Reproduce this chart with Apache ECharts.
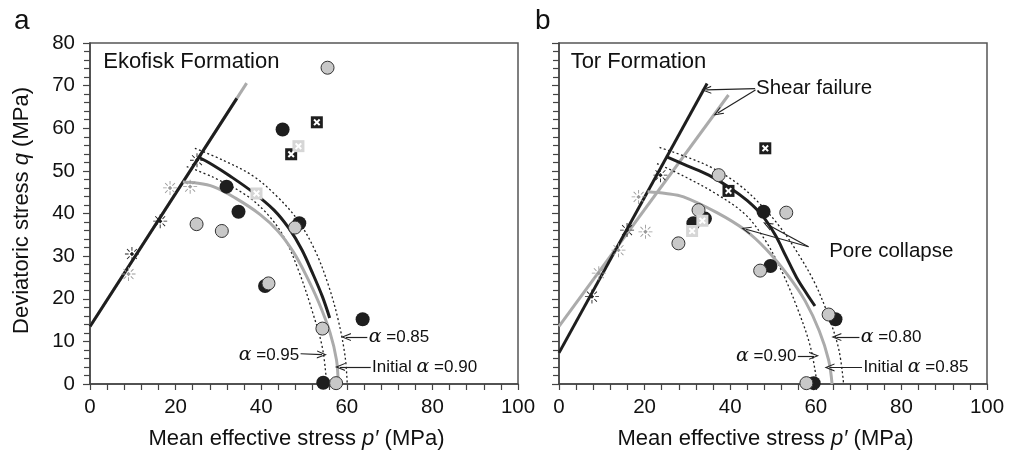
<!DOCTYPE html>
<html><head><meta charset="utf-8">
<script src="https://cdn.jsdelivr.net/npm/echarts@6/dist/echarts.min.js"></script>
<style>html,body{margin:0;padding:0;background:#fff}#c{width:1012px;height:456px}</style>
</head><body><div id="c"></div>
<script>
// ---------- data (MPa) ----------
const xTicks = [0, 20, 40, 60, 80, 100];
const yTicks = [0, 10, 20, 30, 40, 50, 60, 70, 80];

// Panel a: Ekofisk Formation
const aShearBlack = [[0, 13.5], [34.3, 67]];
const aShearGray = [[0, 13.5], [36.6, 70.6]];
const aCapBlack = [[25.4, 53.2], [28.5, 51.5], [32.7, 48.8], [38.2, 44.9], [43, 40.8], [46.5, 36.5], [49.5, 31.5], [52, 26], [54.3, 20.5], [56, 15.5]];
const aCapGray = [[21.7, 47.4], [24.5, 47.2], [28.8, 46.3], [34, 43.6], [39.7, 39.8], [44, 35.8], [47.5, 31], [50.5, 25.5], [53.5, 19], [56.1, 12], [57.6, 5.6], [58, 0]];
const aDotOuter = [[24.5, 55.3], [31.1, 52.5], [38.1, 48.8], [43.7, 44], [48.5, 38.5], [52.5, 31.5], [55.6, 23.5], [58, 15], [59.6, 6.5], [60.1, 0]];
const aDotInner = [[22.6, 51], [28.8, 48.5], [36.6, 44.2], [41.5, 39.8], [45.3, 34.5], [48.7, 26.7], [51.8, 17.5], [54.3, 8.5], [55.3, 0]];
const aBlackCircles = [[45, 59.7], [31.9, 46.3], [34.7, 40.4], [48.9, 37.7], [40.9, 23], [63.7, 15.2], [54.5, 0.3]];
const aGrayCircles = [[55.5, 74.2], [24.9, 37.5], [30.8, 35.9], [47.9, 36.7], [41.7, 23.6], [54.3, 13], [57.5, 0.2]];
const aBlackSquares = [[53, 61.4], [47, 53.9]];
const aGraySquares = [[48.7, 55.8], [38.9, 44.7]];
const aShearPtsBlack = [[25, 52.5], [16.4, 38.2], [9.8, 30.5]];
const aShearPtsGray = [[18.7, 46], [23.4, 46.3], [9, 25.8]];

// Panel b: Tor Formation
const bShearBlack = [[0, 7.3], [34.6, 70.5]];
const bShearGray = [[0, 13.5], [39.6, 67.8]];
const bCapBlack = [[25.2, 53.3], [30, 51.2], [35, 49], [40, 46], [44, 43], [47.5, 39.5], [50.5, 35], [53, 30], [55.5, 25], [58, 21], [59.8, 18.3]];
const bCapGray = [[20.7, 45.1], [25, 44.7], [29.1, 43.9], [36.9, 40.2], [43.5, 36.1], [48.5, 31.5], [53.5, 25.5], [57.5, 19.5], [60.8, 12.5], [63, 5.6], [63.8, 0]];
const bDotOuter = [[23.5, 55.5], [30, 53.2], [36, 50.6], [42, 46.8], [47, 42.2], [51.5, 37], [55.6, 31], [59.8, 23.6], [63, 15.8], [65.4, 8], [66.5, 0]];
const bDotInner = [[22.9, 51.7], [29.1, 48.8], [36.9, 44.5], [43.5, 39.8], [48, 34], [51.8, 27], [55.8, 17.5], [58.8, 8.5], [60.3, 0]];
const bBlackCircles = [[34.1, 38.8], [31.4, 37.7], [47.8, 40.4], [49.4, 27.7], [64.6, 15.2], [59.5, 0.2]];
const bGrayCircles = [[37.3, 49], [32.6, 40.8], [27.9, 33], [53.1, 40.2], [47, 26.6], [63, 16.3], [57.8, 0.2]];
const bBlackSquares = [[48.2, 55.3], [39.6, 45.3]];
const bGraySquares = [[33.5, 38.3], [31.1, 35.9]];
const bShearPtsBlack = [[23.7, 49], [15.9, 36.1], [7.7, 20.5]];
const bShearPtsGray = [[18.6, 43.9], [20.2, 35.7], [13.9, 31.4], [9.3, 26]];

// Annotations (text, anchor point in data units, arrows from -> to)
const aTexts = [
  {t: 'Ekofisk Formation', p: [3, 75.6], al: 'left', fs: 22},
  {t: '{a|α} =0.85', p: [65, 11], al: 'left', fs: 17},
  {t: '{a|α} =0.95', p: [49, 6.8], al: 'right', fs: 17},
  {t: 'Initial {a|α} =0.90', p: [65.8, 4], al: 'left', fs: 17}
];
const aArrows = [[[64.8, 11], [59.8, 11]], [[49.2, 7.1], [54.2, 6.9]], [[65.6, 4], [58.4, 4]]];
const bTexts = [
  {t: 'Tor Formation', p: [2.6, 75.6], al: 'left', fs: 22},
  {t: 'Shear failure', p: [45.9, 69.3], al: 'left', fs: 20.5},
  {t: 'Pore collapse', p: [63, 31.2], al: 'left', fs: 20.5},
  {t: '{a|α} =0.80', p: [70.4, 10.9], al: 'left', fs: 17},
  {t: '{a|α} =0.90', p: [55.6, 6.6], al: 'right', fs: 17},
  {t: 'Initial {a|α} =0.85', p: [71, 3.9], al: 'left', fs: 17}
];
const bArrows = [[[45.9, 69.3], [34.4, 69]], [[45.9, 69], [37.1, 63.6]], [[58.3, 32.2], [48.7, 37.4]], [[58.3, 32.2], [43.7, 36.3]],
  [[70.2, 11], [64.8, 11]], [[55.8, 6.6], [59.6, 6.6]], [[70.8, 3.9], [63.2, 3.9]]];

// ---------- symbols ----------
const XPATH = 'path://M2,0 L5,3 L8,0 L10,2 L7,5 L10,8 L8,10 L5,7 L2,10 L0,8 L3,5 L0,2 Z';
function starPath() {
  let s = 'path://';
  const c = 10, r1 = 4.5, r2 = 9.5, w = 0.6;
  for (let k = 0; k < 8; k++) {
    const a = k * Math.PI / 4, dx = Math.cos(a), dy = Math.sin(a), px = -dy, py = dx;
    const pts = [[c + r1 * dx + w * px, c + r1 * dy + w * py], [c + r2 * dx + w * px, c + r2 * dy + w * py],
                 [c + r2 * dx - w * px, c + r2 * dy - w * py], [c + r1 * dx - w * px, c + r1 * dy - w * py]];
    s += 'M' + pts.map(p => p[0].toFixed(2) + ',' + p[1].toFixed(2)).join(' L') + ' Z ';
  }
  s += 'M10,7 L13,10 L10,13 L7,10 Z';
  return s;
}
const STAR = starPath();
const CHEV = 'path://M5,0 L10,10 L8.6,10 L5,2.8 L1.4,10 L0,10 Z';

const DARK = '#1e1e1e';
const GRAY = '#ababab';
const TXT = '#111';
const FONT = 'Liberation Sans';

function panelSeries(idx, d) {
  const ax = {xAxisIndex: idx, yAxisIndex: idx};
  const line = (data, color, w, type, z) => Object.assign({type: 'line', data, smooth: 0.35, symbol: 'none', lineStyle: {color, width: w, type}, z, silent: true, animation: false}, ax);
  const sc = (data, symbol, size, style, z) => Object.assign({type: 'scatter', data, symbol, symbolSize: size, itemStyle: Object.assign({opacity: 1}, style), z, silent: true, animation: false}, ax);
  return [
    line(d.shearGray, GRAY, 3, 'solid', 2),
    line(d.shearBlack, DARK, 3, 'solid', 3),
    line(d.dotOuter, DARK, 1.3, [2, 2.5], 2),
    line(d.dotInner, DARK, 1.3, [2, 2.5], 2),
    line(d.capGray, GRAY, 3, 'solid', 3),
    line(d.capBlack, DARK, 3, 'solid', 4),
    sc(d.shearPtsGray, STAR, 14, {color: '#999'}, 5),
    sc(d.shearPtsBlack, STAR, 14, {color: DARK}, 5),
    sc(d.blackCircles, 'circle', 14, {color: DARK}, 6),
    sc(d.grayCircles, 'circle', 13, {color: '#c8c8c8', borderColor: '#333', borderWidth: 1}, 7),
    sc(d.blackSquares, 'rect', 12, {color: DARK}, 8),
    sc(d.graySquares, 'rect', 12, {color: '#d6d6d6'}, 8),
    sc(d.blackSquares.concat(d.graySquares), XPATH, 7, {color: '#fff'}, 9),
    Object.assign({
      type: 'scatter', symbol: 'circle', symbolSize: 1, itemStyle: {color: '#fff', opacity: 1}, z: 10, silent: true, animation: false,
      data: d.texts.map(o => ({value: o.p, label: {show: true, position: o.al === 'left' ? 'right' : 'left', distance: 0,
        formatter: o.t, verticalAlign: 'middle', opacity: 1, textBorderWidth: 0,
        fontSize: o.fs, color: TXT, fontFamily: FONT,
        rich: {a: {fontStyle: 'italic', fontFamily: 'DejaVu Serif', fontSize: 19, color: TXT}}}})),
      markLine: {silent: true, animation: false, symbol: ['none', CHEV], symbolSize: [8, 10],
        label: {show: false}, lineStyle: {color: '#222', width: 1.2, type: 'solid', opacity: 1},
        data: d.arrows.map(a => [{coord: a[0]}, {coord: a[1]}])}
    }, ax)
  ];
}

const A = {shearBlack: aShearBlack, shearGray: aShearGray, capBlack: aCapBlack, capGray: aCapGray, dotOuter: aDotOuter, dotInner: aDotInner,
  blackCircles: aBlackCircles, grayCircles: aGrayCircles, blackSquares: aBlackSquares, graySquares: aGraySquares,
  shearPtsBlack: aShearPtsBlack, shearPtsGray: aShearPtsGray, texts: aTexts, arrows: aArrows};
const B = {shearBlack: bShearBlack, shearGray: bShearGray, capBlack: bCapBlack, capGray: bCapGray, dotOuter: bDotOuter, dotInner: bDotInner,
  blackCircles: bBlackCircles, grayCircles: bGrayCircles, blackSquares: bBlackSquares, graySquares: bGraySquares,
  shearPtsBlack: bShearPtsBlack, shearPtsGray: bShearPtsGray, texts: bTexts, arrows: bArrows};

const axisLine = {show: true, lineStyle: {color: '#444', width: 1.5}};
const nameRich = {i: {fontStyle: 'italic', fontSize: 22, fontFamily: FONT, color: TXT}};
function xAxis(i) {
  return {type: 'value', gridIndex: i, min: xTicks[0], max: xTicks[xTicks.length - 1], interval: xTicks[1] - xTicks[0],
    axisLine, axisTick: {show: true, length: 6, lineStyle: {color: '#444', width: 1.2}},
    minorTick: {show: true, splitNumber: 5, length: 6, lineStyle: {color: '#444', width: 1.2}},
    splitLine: {show: false}, axisLabel: {fontSize: 20.5, color: TXT, fontFamily: FONT, margin: 13},
    name: 'Mean effective stress {i|p′} (MPa)', nameLocation: 'middle', nameGap: 44,
    nameTextStyle: {fontSize: 22, color: TXT, fontFamily: FONT, rich: nameRich, padding: [0, 15, 0, 0]}};
}
function yAxis(i, labels) {
  return {type: 'value', gridIndex: i, min: yTicks[0], max: yTicks[yTicks.length - 1], interval: yTicks[1] - yTicks[0],
    axisLine, axisTick: {show: true, length: 7, lineStyle: {color: '#444', width: 1.2}},
    minorTick: {show: true, splitNumber: 5, length: 6, lineStyle: {color: '#444', width: 1.2}},
    splitLine: {show: false}, axisLabel: {show: labels, fontSize: 20.5, color: TXT, fontFamily: FONT, margin: 15},
    name: labels ? 'Deviatoric stress {i|q} (MPa)' : '', nameLocation: 'middle', nameGap: 57,
    nameTextStyle: {fontSize: 22, color: TXT, fontFamily: FONT, rich: nameRich, padding: [0, 0, 0, 6]}};
}

const chart = echarts.init(document.getElementById('c'), null, {renderer: 'canvas'});
chart.setOption({
  animation: false,
  backgroundColor: '#fff',
  grid: [
    {left: 90, top: 43, width: 428, height: 341, show: true, borderColor: '#555', borderWidth: 1.5, backgroundColor: 'transparent'},
    {left: 559, top: 43, width: 428, height: 341, show: true, borderColor: '#555', borderWidth: 1.5, backgroundColor: 'transparent'}
  ],
  title: [
    {text: 'a', left: 9, top: 2, textStyle: {fontSize: 28, fontWeight: 'normal', color: TXT, fontFamily: FONT}},
    {text: 'b', left: 530, top: 2, textStyle: {fontSize: 28, fontWeight: 'normal', color: TXT, fontFamily: FONT}}
  ],
  xAxis: [xAxis(0), xAxis(1)],
  yAxis: [yAxis(0, true), yAxis(1, false)],
  series: panelSeries(0, A).concat(panelSeries(1, B))
});
</script></body></html>
